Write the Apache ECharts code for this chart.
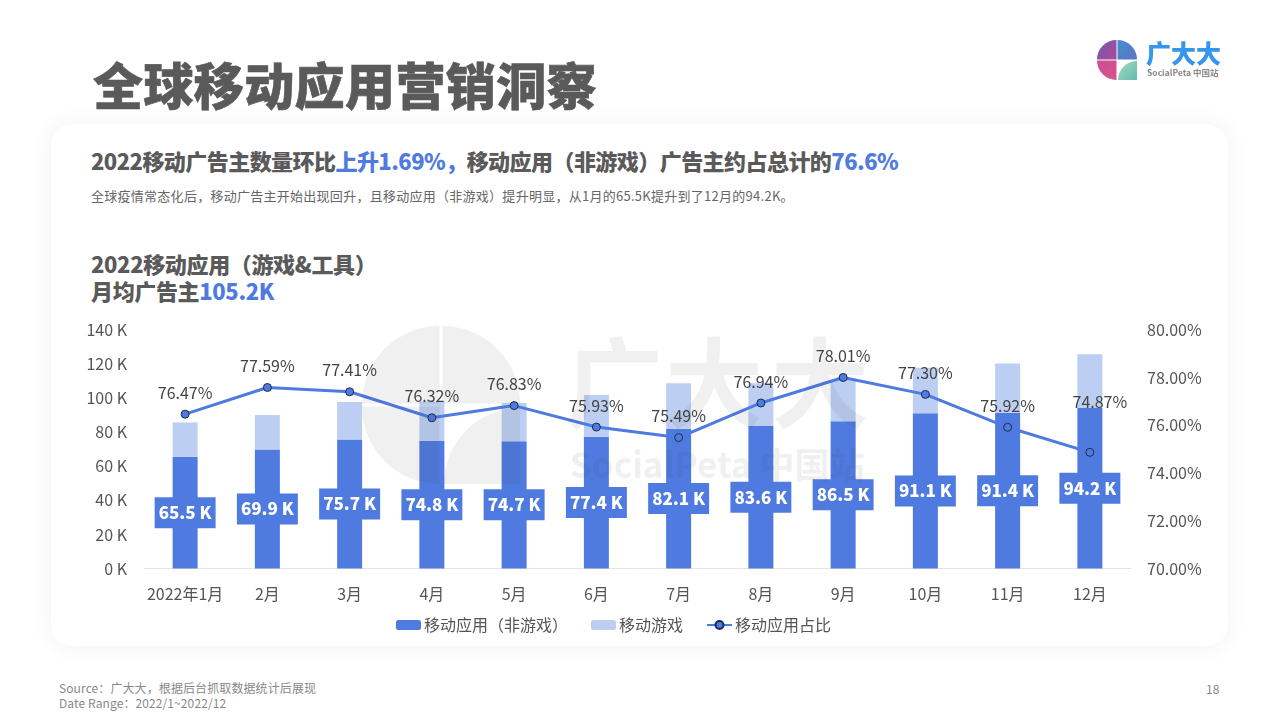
<!DOCTYPE html>
<html>
<head>
<meta charset="utf-8">
<script src="https://cdn.jsdelivr.net/npm/echarts@6/dist/echarts.min.js"></script>
<style>
  html, body { margin: 0; padding: 0; width: 1280px; height: 720px; overflow: hidden; background: #fff; }
  body { position: relative; font-family: "Noto Sans CJK SC", "Noto Sans", sans-serif; color: #5a5a5a; }
  .card { position: absolute; left: 51px; top: 124px; width: 1177px; height: 522px; background: #fff; border-radius: 22px; box-shadow: 0 0 24px rgba(0,0,0,0.06); }
  .txt { position: absolute; white-space: nowrap; }
  .blue { color: #4f7be0; }
  #chart { position: absolute; left: 0; top: 0; width: 1280px; height: 720px; }
  #title { left: 93px; top: 47px; font-size: 50px; line-height: 72px; font-weight: 900; letter-spacing: 0.4px; -webkit-text-stroke: 0.6px #5a5a5a; }
  #headline { left: 91px; top: 145px; font-size: 22px; line-height: 30px; font-weight: 900; letter-spacing: -0.55px; }
  #sub { left: 91px; top: 187px; font-size: 13px; line-height: 18px; color: #666; letter-spacing: 0.27px; }
  #head2 { left: 91px; top: 250px; font-size: 22px; line-height: 27px; font-weight: 900; letter-spacing: -0.35px; }
  #source { left: 59px; top: 680px; font-size: 12px; line-height: 15px; color: #888; letter-spacing: 0.1px; }
  #page { left: 1206px; top: 681px; font-size: 12px; line-height: 16px; color: #888; }
</style>
</head>
<body>
<div class="card"></div>
<div class="txt" id="title">全球移动应用营销洞察</div>
<div class="txt" id="headline">2022移动广告主数量环比<span class="blue">上升1.69%，</span>移动应用（非游戏）广告主约占总计的<span class="blue">76.6%</span></div>
<div class="txt" id="sub">全球疫情常态化后，移动广告主开始出现回升，且移动应用（非游戏）提升明显，从1月的65.5K提升到了12月的94.2K。</div>
<div class="txt" id="head2">2022移动应用（游戏&amp;工具）<br>月均广告主<span class="blue">105.2K</span></div>
<div class="txt" id="source">Source：广大大，根据后台抓取数据统计后展现<br>Date Range：2022/1~2022/12</div>
<div class="txt" id="page">18</div>
<div id="chart"></div>
<script>
const months = ['2022年1月','2月','3月','4月','5月','6月','7月','8月','9月','10月','11月','12月'];
const appValues = [65.5,69.9,75.7,74.8,74.7,77.4,82.1,83.6,86.5,91.1,91.4,94.2];
const gameValues = [20.2,20.2,22.1,23.2,22.5,24.5,26.7,25.1,24.4,26.8,29.0,31.6];
const shareValues = [76.47,77.59,77.41,76.32,76.83,75.93,75.49,76.94,78.01,77.30,75.92,74.87];

const BLUE = '#4f7be0';
const LIGHT = '#bccff3';
const FONT = '"Noto Sans CJK SC", "Noto Sans", sans-serif';

function grad(a, b) {
  return new echarts.graphic.LinearGradient(0, 0, 1, 1, [
    { offset: 0, color: a },
    { offset: 1, color: b }
  ]);
}

// quarter-round logo mark, used for the corner logo and the big watermark
function logoMark(cx, cy, r, fills, z, gap) {
  const sector = (x, y, rad, start, end, fill) => ({
    type: 'sector', z: z, silent: true,
    shape: { cx: x, cy: y, r: rad, startAngle: start, endAngle: end },
    style: { fill: fill }
  });
  const inner = r - gap;
  return [
    sector(cx - gap, cy - gap, inner, Math.PI, Math.PI * 1.5, fills[0]),
    sector(cx + gap, cy - gap, inner, Math.PI * 1.5, Math.PI * 2, fills[1]),
    sector(cx - gap, cy + gap, inner, Math.PI * 0.5, Math.PI, fills[2]),
    sector(cx + r, cy + r, r - gap * 2, Math.PI, Math.PI * 1.5, fills[3])
  ];
}

const chart = echarts.init(document.getElementById('chart'), null, { renderer: 'canvas' });
const wmFill = 'rgba(60,60,60,0.075)';
const wmFont = '700 98px ' + FONT;
chart.setOption({
  animation: false,
  textStyle: { fontFamily: FONT },
  grid: { left: 144, right: 149, top: 330, height: 238.5 },
  legend: {
    left: 391, top: 612, itemWidth: 25, itemHeight: 10, itemGap: 23,
    textStyle: { fontSize: 16, color: '#555', fontFamily: FONT, padding: [0, 0, 0, -2] },
    data: ['移动应用（非游戏）', '移动游戏', '移动应用占比']
  },
  xAxis: {
    type: 'category', data: months,
    axisTick: { show: false },
    axisLine: { lineStyle: { color: '#e4e4e4', width: 1 } },
    axisLabel: { color: '#555', fontSize: 16, margin: 17, interval: 0 }
  },
  yAxis: [{
    type: 'value', min: 0, max: 140, interval: 20,
    splitLine: { show: false },
    axisLabel: { color: '#555', fontSize: 16, margin: 17, formatter: '{value} K' }
  }, {
    type: 'value', min: 70, max: 80, interval: 2,
    splitLine: { show: false },
    axisLabel: { color: '#555', fontSize: 16, margin: 16, formatter: (v) => v.toFixed(2) + '%' }
  }],
  series: [{
    name: '移动应用（非游戏）', type: 'bar', stack: 'total', barWidth: 25,
    data: appValues,
    itemStyle: { color: BLUE },
    label: {
      show: true, position: 'inside', color: '#fff', fontSize: 17, fontWeight: 900,
      backgroundColor: BLUE, padding: [7, 4, 5, 4], lineHeight: 19,
      formatter: (p) => p.value.toFixed(1) + ' K'
    }
  }, {
    name: '移动游戏', type: 'bar', stack: 'total', barWidth: 25,
    data: gameValues,
    itemStyle: { color: LIGHT }
  }, {
    name: '移动应用占比', type: 'line', yAxisIndex: 1, z: 5,
    // the last label was dragged up and to the right in the original
    data: shareValues.map((v, i) => i === shareValues.length - 1 ? { value: v, label: { offset: [10, -29] } } : v),
    symbol: 'circle', symbolSize: 8,
    lineStyle: { color: BLUE, width: 3 },
    itemStyle: { color: BLUE, borderColor: '#1d2b4f', borderWidth: 1 },
    label: {
      show: true, position: 'top', distance: 9, color: '#444', fontSize: 16,
      formatter: (p) => p.value.toFixed(2) + '%'
    }
  }],
  graphic: [
    // watermark sits over the bars
    ...logoMark(441, 405, 79, [wmFill, wmFill, wmFill, wmFill], 20, 1.5),
    { type: 'text', z: 20, silent: true, style: { x: 565, y: 334, text: '广', font: wmFont, fill: wmFill } },
    { type: 'text', z: 20, silent: true, style: { x: 665, y: 334, text: '大', font: wmFont, fill: wmFill } },
    { type: 'text', z: 20, silent: true, style: { x: 771, y: 334, text: '大', font: wmFont, fill: wmFill } },
    { type: 'text', z: 20, silent: true, style: { x: 570, y: 447, text: 'SocialPeta 中国站', font: '700 35px ' + FONT, fill: wmFill } },
    // corner logo
    ...logoMark(1117, 60, 20, [grad('#6d5bb0', '#b0489a'), grad('#3f8fd0', '#5f74c4'), grad('#c94f9a', '#d8548a'), grad('#a8d8c8', '#62bba8')], 30, 0.5),
    { type: 'text', z: 30, silent: true, style: { x: 1146, y: 41, text: '广大大', font: '900 25px ' + FONT, fill: '#3596ee' } },
    { type: 'text', z: 30, silent: true, style: { x: 1147, y: 69, text: 'SocialPeta 中国站', font: '700 8.5px ' + FONT, fill: '#888' } }
  ]
});
window.addEventListener('resize', () => chart.resize());
</script>
</body>
</html>
